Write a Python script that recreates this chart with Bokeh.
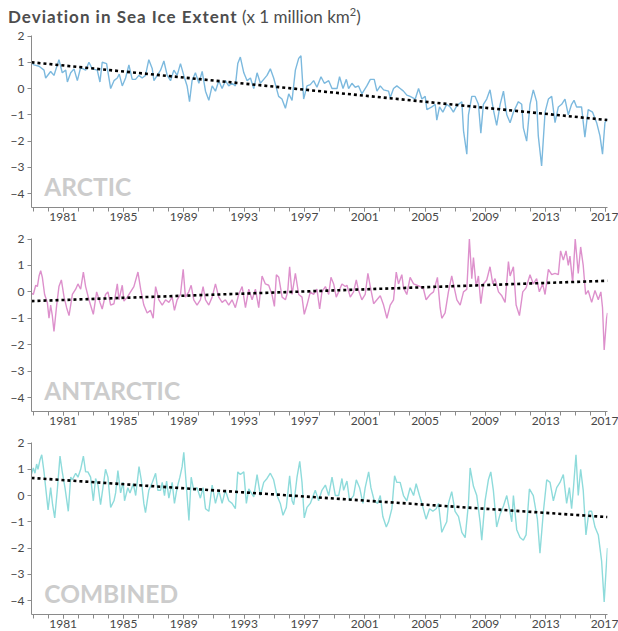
from bokeh.plotting import figure
from bokeh.models import Range1d, FixedTicker, Label, Div
from bokeh.layouts import column
from bokeh.embed import file_html
from bokeh.resources import INLINE

# ---------------- data ----------------
arctic_years = [1978.89, 1979.07, 1979.40, 1979.73, 1979.84, 1980.17, 1980.39, 1980.72, 1980.94, 1981.17,
                1981.28, 1981.50, 1981.72, 1981.94, 1982.16, 1982.49, 1982.71, 1982.93, 1983.26, 1983.44,
                1983.59, 1983.88, 1984.15, 1984.37, 1984.59, 1984.72, 1984.92, 1985.14, 1985.36, 1985.58,
                1985.80, 1986.02, 1986.24, 1986.46, 1986.68, 1986.91, 1987.02, 1987.24, 1987.46, 1987.68,
                1987.90, 1988.12, 1988.34, 1988.56, 1988.78, 1989.00, 1989.22, 1989.38, 1989.55, 1989.77,
                1990.00, 1990.22, 1990.44, 1990.66, 1990.88, 1991.10, 1991.32, 1991.54, 1991.76, 1991.98,
                1992.20, 1992.42, 1992.58, 1992.75, 1992.98, 1993.20, 1993.42, 1993.64, 1993.86, 1994.08,
                1994.30, 1994.52, 1994.74, 1994.96, 1995.29, 1995.51, 1995.74, 1995.96, 1996.18, 1996.40,
                1996.62, 1996.77, 1996.95, 1997.17, 1997.39, 1997.61, 1997.83, 1998.10, 1998.32, 1998.61,
                1998.83, 1999.16, 1999.33, 1999.56, 1999.78, 1999.93, 2000.15, 2000.37, 2000.59, 2000.81,
                2001.14, 2001.37, 2001.63, 2001.81, 2002.03, 2002.25, 2002.58, 2002.69, 2002.91, 2003.13,
                2003.35, 2003.57, 2003.79, 2004.01, 2004.35, 2004.57, 2004.79, 2005.01, 2005.12, 2005.45,
                2005.67, 2005.78, 2005.96, 2006.18, 2006.44, 2006.66, 2006.88, 2007.11, 2007.33, 2007.44,
                2007.55, 2007.77, 2007.88, 2008.10, 2008.32, 2008.54, 2008.70, 2008.87, 2009.09, 2009.31,
                2009.53, 2009.75, 2009.98, 2010.20, 2010.42, 2010.64, 2010.86, 2011.19, 2011.41, 2011.52,
                2011.74, 2011.96, 2012.18, 2012.40, 2012.51, 2012.73, 2012.96, 2013.18, 2013.40, 2013.62,
                2013.84, 2014.06, 2014.28, 2014.50, 2014.72, 2014.88, 2015.05, 2015.38, 2015.60, 2015.82,
                2016.11, 2016.38, 2016.60, 2016.77, 2016.93, 2017.08]
arctic_values = [1.0, 0.9, 0.85, 0.7, 0.4, 0.65, 0.5, 1.1, 0.6, 0.7,
                 0.25, 0.6, 0.75, 0.3, 0.8, 0.7, 1.0, 0.75, 0.7, 0.25,
                 1.0, 0.95, 0.0, 0.3, 0.4, 0.55, 0.1, 0.4, 0.9, 0.35,
                 0.35, 0.5, 0.4, 0.5, 1.1, 0.75, 0.3, 0.5, 0.7, 1.05,
                 0.5, 0.3, 0.7, 0.5, 0.95, 0.5, 0.1, -0.5, 0.3, 0.6,
                 0.2, 0.65, -0.1, -0.45, 0.1, -0.1, 0.3, 0.0, 0.3, 0.1,
                 0.2, 0.1, 0.95, 1.2, 0.6, 0.3, 0.4, 0.0, 0.6, 0.2,
                 0.35, 0.5, 0.75, 0.4, -0.3, -0.4, -0.75, -0.2, -0.45, 0.7,
                 1.15, 1.25, -0.4, 0.1, 0.15, 0.3, 0.05, 0.45, 0.2, 0.3,
                 0.0, 0.0, 0.45, 0.0, 0.35, 0.0, 0.2, 0.05, 0.1, -0.2,
                 0.1, 0.35, 0.35, -0.1, 0.1, -0.05, -0.1, -0.35, 0.0, 0.1,
                 0.0, -0.1, -0.25, -0.3, -0.4, 0.0, -0.4, -0.3, -0.8, -0.7,
                 -0.6, -1.2, -0.7, -0.9, -0.6, -0.7, -0.9, -0.65, -0.55, -0.5,
                 -1.6, -2.5, -1.0, -0.3, -0.3, -0.6, -1.7, -0.6, -0.4, -0.05,
                 -0.8, -1.4, -0.6, -0.1, -1.0, -1.3, -0.9, -0.5, -0.6, -1.5,
                 -2.0, -0.6, -0.05, -0.5, -1.8, -2.95, -0.9, -0.4, -0.3, -1.3,
                 -0.7, -0.6, -0.4, -1.0, -0.6, -0.45, -0.7, -0.7, -1.85, -0.8,
                 -0.9, -1.3, -1.8, -2.5, -1.3, -1.15]

antarctic_years = [1978.89, 1979.02, 1979.18, 1979.29, 1979.40, 1979.51, 1979.62, 1979.77, 1979.95, 1980.06,
                   1980.17, 1980.28, 1980.39, 1980.57, 1980.72, 1980.88, 1981.06, 1981.23, 1981.39, 1981.61,
                   1981.83, 1981.98, 1982.16, 1982.34, 1982.49, 1982.71, 1983.00, 1983.22, 1983.44, 1983.59,
                   1983.81, 1983.97, 1984.15, 1984.37, 1984.59, 1984.70, 1984.92, 1985.03, 1985.25, 1985.47,
                   1985.69, 1985.96, 1986.14, 1986.35, 1986.57, 1986.79, 1986.97, 1987.13, 1987.35, 1987.57,
                   1987.79, 1988.01, 1988.23, 1988.38, 1988.56, 1988.78, 1988.96, 1989.11, 1989.33, 1989.49,
                   1989.66, 1989.88, 1990.10, 1990.28, 1990.44, 1990.66, 1990.88, 1991.10, 1991.32, 1991.54,
                   1991.76, 1991.98, 1992.20, 1992.42, 1992.64, 1992.87, 1993.09, 1993.31, 1993.53, 1993.75,
                   1993.97, 1994.19, 1994.41, 1994.63, 1994.85, 1995.01, 1995.14, 1995.30, 1995.52, 1995.74,
                   1995.89, 1996.02, 1996.18, 1996.40, 1996.62, 1996.84, 1996.99, 1997.17, 1997.39, 1997.61,
                   1997.83, 1998.01, 1998.16, 1998.39, 1998.61, 1998.76, 1998.94, 1999.11, 1999.27, 1999.49,
                   1999.71, 1999.82, 2000.04, 2000.26, 2000.44, 2000.59, 2000.81, 2001.03, 2001.21, 2001.37,
                   2001.59, 2001.81, 2002.03, 2002.25, 2002.47, 2002.69, 2002.91, 2003.09, 2003.24, 2003.46,
                   2003.57, 2003.79, 2004.01, 2004.24, 2004.46, 2004.68, 2004.90, 2005.07, 2005.34, 2005.56,
                   2005.82, 2006.00, 2006.11, 2006.33, 2006.55, 2006.77, 2006.88, 2007.11, 2007.33, 2007.55,
                   2007.77, 2007.94, 2008.10, 2008.21, 2008.39, 2008.54, 2008.70, 2008.87, 2009.09, 2009.31,
                   2009.49, 2009.64, 2009.87, 2010.09, 2010.31, 2010.53, 2010.64, 2010.86, 2011.04, 2011.26,
                   2011.48, 2011.70, 2011.96, 2012.18, 2012.40, 2012.58, 2012.80, 2012.96, 2013.18, 2013.40,
                   2013.62, 2013.84, 2013.99, 2014.17, 2014.35, 2014.50, 2014.61, 2014.79, 2014.96, 2015.16,
                   2015.32, 2015.49, 2015.65, 2015.82, 2016.05, 2016.27, 2016.49, 2016.66, 2016.77, 2016.88,
                   2017.04, 2017.10]
antarctic_values = [-0.05, -0.1, 0.25, 0.2, 0.6, 0.8, 0.55, -0.1, -0.4, -1.0,
                    -0.5, -0.9, -1.5, -0.5, 0.2, 0.45, -0.2, -0.6, -0.9, -0.1,
                    0.1, 0.3, 0.1, 0.75, 0.2, -0.3, -0.85, 0.0, -0.4, -0.65,
                    -0.1, 0.0, -0.5, -0.45, 0.3, -0.3, 0.25, -0.35, -0.2, 0.0,
                    0.2, 0.75, 0.1, -0.5, -0.8, -0.7, -1.0, 0.2, -0.3, -0.5,
                    -0.3, -0.4, -0.2, -0.7, -0.3, -0.1, 0.85, -0.2, 0.0, 0.25,
                    -0.3, -0.5, -0.3, 0.2, -0.3, -0.5, -0.2, 0.3, -0.2, -0.4,
                    -0.3, -0.5, -0.3, -0.6, -0.1, 0.2, -0.6, 0.1, -0.3, 0.1,
                    -0.6, 0.6, 0.3, 0.25, -0.1, -0.55, 0.65, 0.55, -0.2, -0.3,
                    0.0, 0.95, -0.1, 0.7, -0.1, -0.2, -0.85, -0.5, 0.0, -0.1,
                    0.1, -0.65, 0.0, 0.2, -0.1, 0.55, 0.3, -0.2, 0.0, 0.3,
                    0.2, 0.25, -0.2, 0.0, 0.45, 0.05, -0.3, -0.1, 0.7, 0.2,
                    -0.45, -0.3, -0.15, -0.5, -1.0, -0.5, -0.3, 0.75, 0.3, 0.65,
                    0.15, -0.1, 0.55, 0.3, 0.25, 0.2, 0.1, -0.3, -0.1, 0.0,
                    0.55, -0.6, -1.0, -0.8, 0.0, 0.6, 0.3, -0.3, -0.5, 0.0,
                    0.1, 2.0, 0.5, 1.3, 0.2, 0.6, -0.45, 0.3, 0.45, 0.95,
                    0.3, 0.5, 0.0, -0.15, -0.4, 1.15, 0.6, 0.95, -0.5, -0.9,
                    0.0, 0.15, 0.65, 0.3, 0.5, 0.0, 0.3, -0.1, 0.85, 0.65,
                    0.7, 0.65, 1.55, 1.2, 1.55, 1.0, 1.35, 0.35, 2.0, 0.7,
                    1.7, 1.0, -0.1, 0.05, -0.4, 0.05, -0.3, 0.0, -0.6, -2.2,
                    -1.0, -0.8]

combined_years = [1978.89, 1979.02, 1979.13, 1979.24, 1979.33, 1979.46, 1979.58, 1979.73, 1979.84, 1980.00,
                  1980.17, 1980.30, 1980.44, 1980.61, 1980.79, 1980.94, 1981.12, 1981.34, 1981.50, 1981.61,
                  1981.83, 1981.98, 1982.16, 1982.34, 1982.49, 1982.64, 1982.82, 1983.00, 1983.15, 1983.31,
                  1983.48, 1983.59, 1983.81, 1983.97, 1984.15, 1984.37, 1984.48, 1984.63, 1984.81, 1984.98,
                  1985.07, 1985.29, 1985.43, 1985.65, 1985.81, 1986.03, 1986.18, 1986.35, 1986.46, 1986.68,
                  1986.91, 1987.13, 1987.28, 1987.46, 1987.57, 1987.72, 1987.86, 1988.01, 1988.23, 1988.38,
                  1988.56, 1988.74, 1988.89, 1989.00, 1989.18, 1989.34, 1989.49, 1989.66, 1989.88, 1990.10,
                  1990.28, 1990.44, 1990.66, 1990.88, 1991.10, 1991.32, 1991.54, 1991.76, 1991.98, 1992.20,
                  1992.42, 1992.58, 1992.75, 1992.98, 1993.15, 1993.31, 1993.64, 1993.86, 1994.08, 1994.30,
                  1994.52, 1994.74, 1994.96, 1995.18, 1995.40, 1995.58, 1995.80, 1996.02, 1996.18, 1996.29,
                  1996.51, 1996.69, 1996.84, 1996.99, 1997.17, 1997.39, 1997.72, 1997.94, 1998.16, 1998.39,
                  1998.61, 1998.83, 1999.05, 1999.27, 1999.49, 1999.60, 1999.82, 2000.00, 2000.26, 2000.44,
                  2000.66, 2000.88, 2001.03, 2001.26, 2001.41, 2001.63, 2001.85, 2002.03, 2002.20, 2002.43,
                  2002.58, 2002.80, 2002.98, 2003.13, 2003.35, 2003.57, 2003.79, 2004.01, 2004.24, 2004.41,
                  2004.63, 2004.79, 2005.07, 2005.30, 2005.52, 2005.74, 2005.89, 2006.11, 2006.27, 2006.44,
                  2006.55, 2006.77, 2006.99, 2007.22, 2007.44, 2007.66, 2007.88, 2007.99, 2008.21, 2008.43,
                  2008.65, 2008.76, 2008.98, 2009.20, 2009.36, 2009.53, 2009.75, 2009.98, 2010.20, 2010.42,
                  2010.59, 2010.75, 2010.86, 2011.08, 2011.30, 2011.52, 2011.70, 2011.92, 2012.18, 2012.45,
                  2012.62, 2012.85, 2013.07, 2013.29, 2013.51, 2013.73, 2013.95, 2014.17, 2014.39, 2014.57,
                  2014.72, 2014.83, 2015.01, 2015.16, 2015.32, 2015.49, 2015.67, 2015.87, 2016.05, 2016.27,
                  2016.49, 2016.71, 2016.88, 2017.04, 2017.10]
combined_values = [0.8, 1.05, 0.85, 1.2, 1.0, 1.35, 1.55, 0.9, 0.3, -0.55,
                   0.3, -0.35, -0.85, 0.2, 1.5, 0.9, 0.3, -0.6, 0.7, 0.6,
                   0.85, 0.7, 1.0, 1.5, 0.9, 0.9, 0.7, -0.2, 0.65, 0.4,
                   -0.35, 0.1, 1.0, 0.7, -0.45, -0.2, 0.1, 0.95, 0.1, 0.5,
                   -0.2, 0.3, 0.1, 0.45, 0.0, 1.1, 0.6, -0.3, -0.65, 0.2,
                   0.5, 0.85, 0.2, 0.2, 0.5, 0.0, 0.55, -0.1, 0.5, -0.3,
                   0.3, 0.7, 1.1, 1.65, 0.3, -0.95, 0.7, 0.2, 0.3, -0.1,
                   0.3, -0.5, -0.6, 0.4, -0.3, 0.2, -0.3, 0.2, -0.2, -0.3,
                   -0.5, 0.9, 0.8, 0.9, -0.3, 0.25, -0.05, 0.8, 0.0, 0.5,
                   0.65, 0.85, 0.6, 0.0, -0.3, -0.75, -0.45, 0.75, -0.2, -0.35,
                   0.7, 1.3, 0.5, -0.85, -0.45, -0.3, 0.2, -0.2, 0.2, 0.4,
                   0.0, 0.7, 0.0, 0.0, 0.65, 0.2, 0.55, -0.2, 0.0, 0.6,
                   0.3, -0.3, 0.3, 0.9, 0.3, -0.2, -0.3, 0.0, -0.8, -1.2,
                   -1.0, -0.5, 0.75, 0.5, 0.5, 0.0, -0.2, 0.3, 0.0, 0.45,
                   0.0, -0.3, -0.9, -0.5, -0.6, -0.5, -0.3, -1.4, -1.2, -1.0,
                   -0.3, 0.15, -0.6, -0.8, -1.4, -1.6, -0.3, 1.05, 0.35, 0.0,
                   -1.0, -1.7, -0.2, 0.6, 0.9, 0.2, -1.2, -0.7, -0.4, 0.0,
                   -0.5, -1.0, 0.0, -1.3, -1.6, -1.7, -1.5, 0.25, 0.0, -0.9,
                   -2.2, -0.6, 0.6, 0.5, -0.2, 0.3, 0.5, 0.8, -0.3, 0.3,
                   -0.5, 0.2, 1.55, 0.0, 1.0, 0.2, -1.5, -0.6, -0.6, -1.2,
                   -1.5, -2.5, -4.05, -2.5, -2.0]

trend_years = [1978.9, 2017.1]
arctic_trend = [1.0, -1.2]
antarctic_trend = [-0.35, 0.42]
combined_trend = [0.67, -0.82]

year_ticks = list(range(1981, 2018, 4))
year_minor = list(range(1979, 2018))
value_ticks = [-4, -3, -2, -1, 0, 1, 2]
panel_names = ["ARCTIC", "ANTARCTIC", "COMBINED"]
colors = ["#7cb9de", "#dd90cc", "#8edbdb"]

FONT = "Lato"


def make_panel(xs, ys, ty, color, name, height, top, bottom):
    p = figure(width=618, height=height,
               x_range=Range1d(1978.9, 2017.1), y_range=Range1d(-4.53, 2.02),
               output_backend="svg", toolbar_location=None,
               min_border_left=31, min_border_right=11,
               min_border_top=top, min_border_bottom=bottom)
    p.outline_line_color = None
    p.xgrid.visible = False
    p.ygrid.visible = False
    p.background_fill_color = "white"
    p.border_fill_color = "white"

    p.xaxis.ticker = FixedTicker(ticks=year_ticks, minor_ticks=year_minor)
    p.yaxis.ticker = FixedTicker(ticks=value_ticks)
    p.yaxis.major_label_overrides = {float(v): (str(v).replace("-", "\u2212")) for v in value_ticks}
    for ax in (p.xaxis, p.yaxis):
        ax.axis_line_color = "#8a8a8a"
        ax.major_tick_line_color = "#8a8a8a"
        ax.minor_tick_line_color = "#8a8a8a"
        ax.major_tick_in = 0
        ax.minor_tick_in = 0
        ax.major_label_text_font = FONT
        ax.major_label_text_font_size = "12px"
        ax.major_label_text_color = "#474747"
    p.xaxis.major_tick_out = 4
    p.xaxis.minor_tick_out = 4
    p.xaxis.major_label_standoff = 1
    p.yaxis.major_tick_out = 4
    p.yaxis.minor_tick_line_color = None
    p.yaxis.major_label_standoff = 3

    # panel name sits just above the -4 level, near the left edge
    p.add_layout(Label(x=1979.75, y=-3.74, text=name, text_font=FONT,
                       text_font_size="24.5px", text_font_style="bold",
                       text_color="#cccccc", text_baseline="alphabetic"))
    p.line(xs, ys, line_color=color, line_width=1.4)
    p.line(trend_years, ty, line_color="black", line_width=2.6, line_dash="3 3")
    return p


title = Div(text='<div style="padding:7px 0 0 8px; font-family:Lato; font-size:17px; '
                 'line-height:20px; color:#4d4d4d; white-space:nowrap;">'
                 '<span style="font-weight:bold; letter-spacing:1px;">Deviation in Sea Ice Extent</span>'
                 ' (x 1 million km<sup style="font-size:11px; line-height:0;">2</sup>)</div>',
            width=618, height=27, margin=(0, 0, 0, 0))

p1 = make_panel(arctic_years, arctic_values, arctic_trend, colors[0], panel_names[0], 204, 8, 24)
p2 = make_panel(antarctic_years, antarctic_values, antarctic_trend, colors[1], panel_names[1], 204, 7, 24)
p3 = make_panel(combined_years, combined_values, combined_trend, colors[2], panel_names[2], 196, 7, 17)

layout = column(title, p1, p2, p3, spacing=0)
open("out.html", "w").write(file_html(layout, INLINE))
